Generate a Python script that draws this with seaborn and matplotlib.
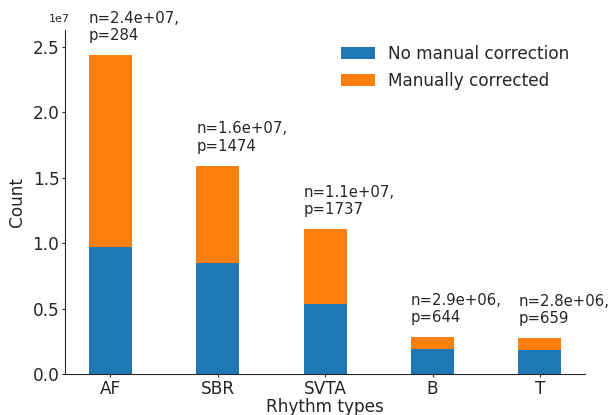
import matplotlib
matplotlib.use("Agg")
import matplotlib.pyplot as plt
import seaborn as sns
import pandas as pd

rhythms = ["AF", "SBR", "SVTA", "B", "T"]
no_manual = [0.972e7, 0.849e7, 0.538e7, 0.194e7, 0.186e7]
manual = [1.466e7, 0.745e7, 0.574e7, 0.094e7, 0.092e7]
totals = [a + b for a, b in zip(no_manual, manual)]
n_labels = ["2.4e+07", "1.6e+07", "1.1e+07", "2.9e+06", "2.8e+06"]
p_labels = [284, 1474, 1737, 644, 659]

df = pd.DataFrame({"rhythm": rhythms, "no_manual": no_manual, "total": totals})

sns.set_style("ticks")
plt.rcParams["font.family"] = ["DejaVu Sans"]

fig = plt.figure(figsize=(6.1, 4.15), dpi=100)
ax = fig.add_axes([0.107, 0.0976, 0.852, 0.8305])

blue = "#1f77b4"
orange = "#ff7f0e"

sns.barplot(data=df, x="rhythm", y="total", color=orange, width=0.4,
            saturation=1, ax=ax, label="Manually corrected", linewidth=0)
sns.barplot(data=df, x="rhythm", y="no_manual", color=blue, width=0.4,
            saturation=1, ax=ax, label="No manual correction", linewidth=0)

for i, (t, n, p) in enumerate(zip(totals, n_labels, p_labels)):
    ax.annotate(f"n={n},\np={p}", xy=(i - 0.2, t), xytext=(0, 8.5),
                textcoords="offset points", ha="left", va="bottom",
                fontsize=10.7, color="#262626")

ax.set_xlim(-0.42, 4.42)
ax.set_ylim(0, 2.63e7)
ax.set_xlabel("Rhythm types", fontsize=12.2, labelpad=0)
ax.set_ylabel("Count", fontsize=12.2, labelpad=5)
ax.tick_params(labelsize=12.2, length=2, pad=2.2)
ax.yaxis.get_offset_text().set_visible(False)
fig.text(59.5 / 610, 1 - 19 / 415, "1e7", ha="center", va="center",
         fontsize=8, color="#262626")
sns.despine(ax=ax)

handles, labels = ax.get_legend_handles_labels()
order = [labels.index("No manual correction"), labels.index("Manually corrected")]
ax.legend([handles[k] for k in order], [labels[k] for k in order],
          loc="upper right", bbox_to_anchor=(1.0, 1.0), frameon=False,
          fontsize=12.2)

fig.savefig("out.png", dpi=100)
